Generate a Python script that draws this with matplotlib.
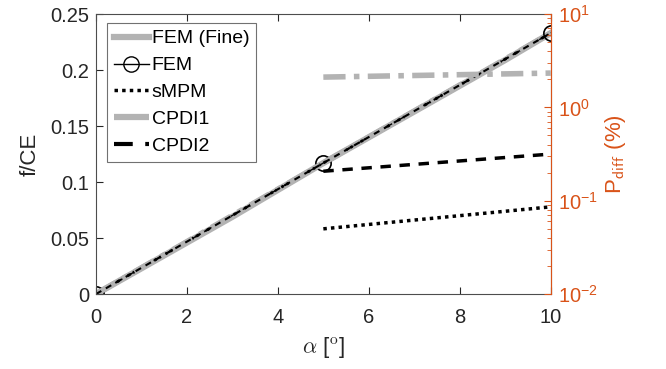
import matplotlib

matplotlib.use("Agg")
import matplotlib.pyplot as plt
from matplotlib.lines import Line2D

plt.rcParams["font.family"] = ["Liberation Sans", "DejaVu Sans"]
plt.rcParams["mathtext.fontset"] = "cm"

# ---------- data ----------
alpha_fine = [0, 1, 2, 3, 4, 5, 6, 7, 8, 9, 10]
f_fine = [0, 0.023, 0.046, 0.069, 0.093, 0.117, 0.140, 0.163, 0.186, 0.209, 0.233]
alpha_coarse = [0, 5, 10]
f_fem = [0, 0.117, 0.233]
f_smpm = [0, 0.117, 0.233]
f_cpdi1 = [0, 0.117, 0.233]
f_cpdi2 = [0, 0.117, 0.233]

alpha_diff = [5, 10]
p_smpm = [0.050, 0.086]
p_cpdi1 = [2.11, 2.33]
p_cpdi2 = [0.207, 0.316]

ORANGE = "#D95319"
GRAY = "#B3B3B3"
AX = "#262626"

fig = plt.figure(figsize=(6.66, 3.69), dpi=100)
ax = fig.add_axes([0.144, 0.203, 0.683, 0.759])

ax.plot(alpha_fine, f_fine, color=GRAY, lw=4.5, label="FEM (Fine)")
ax.plot(alpha_coarse, f_fem, color="black", lw=1.0, marker="o", ms=11,
        mfc="none", mec="black", mew=1.2, label="FEM")
ax.plot(alpha_coarse, f_smpm, color="black", lw=2.0, ls=(0, (1, 1.2)), label="sMPM")
ax.plot(alpha_coarse, f_cpdi1, color=GRAY, lw=4.0, ls=(0, (4, 1.5, 1, 1.5)), label="CPDI1")
ax.plot(alpha_coarse, f_cpdi2, color="black", lw=1.5, ls=(0, (3, 2.5)), label="CPDI2")

ax.set_xlim(0, 10)
ax.set_ylim(0, 0.25)
ax.set_xticks([0, 2, 4, 6, 8, 10])
ax.set_yticks([0, 0.05, 0.1, 0.15, 0.2, 0.25])
ax.set_yticklabels(["0", "0.05", "0.1", "0.15", "0.2", "0.25"])
ax.tick_params(direction="in", labelsize=14.5, colors=AX, top=True, length=5)
ax.tick_params(axis="x", pad=10)
ax.tick_params(axis="y", right=False, pad=5)
for s in ax.spines.values():
    s.set_color("#4D4D4D")
ax.set_xlabel(r"$\alpha$ [$^{\mathrm{o}}$]", fontsize=16, color=AX, labelpad=6)
ax.set_ylabel("f/CE", fontsize=16, color=AX, labelpad=7)

# legend handles drawn with longer lines like the reference
handles = [
    Line2D([], [], color=GRAY, lw=4.5),
    Line2D([], [], color="black", lw=1.0, marker="o", ms=11, mfc="none", mec="black"),
    Line2D([], [], color="black", lw=2.5, ls=(0, (1, 1.2))),
    Line2D([], [], color=GRAY, lw=4.5, ls=(0, (6, 1.5, 1, 1.5))),
    Line2D([], [], color="black", lw=3.0, ls=(0, (4.5, 3))),
]
labels = ["FEM (Fine)", "FEM", "sMPM", "CPDI1", "CPDI2"]
leg = ax.legend(handles, labels, loc="upper left", bbox_to_anchor=(0.024, 0.968),
                fontsize=14, frameon=True, fancybox=False, edgecolor="#4D4D4D",
                handlelength=1.8, handletextpad=0.15, borderpad=0.35, labelspacing=0.48,
                borderaxespad=0.0)
leg.get_frame().set_linewidth(0.8)

# ---------- right axis ----------
ax2 = ax.twinx()
ax2.plot(alpha_diff, p_smpm, color="black", lw=2.5, ls=(0, (1, 1.2)))
ax2.plot(alpha_diff, p_cpdi1, color=GRAY, lw=4.0, ls=(0, (4, 1.5, 1, 1.5)))
ax2.plot(alpha_diff, p_cpdi2, color="black", lw=2.5, ls=(0, (3, 2.5)))
ax2.set_yscale("log")
ax2.set_ylim(1e-2, 1e1)
ax2.tick_params(axis="y", which="both", direction="in", colors=ORANGE, labelsize=14.5, pad=5)
ax2.tick_params(axis="y", which="major", length=5)
ax2.tick_params(axis="y", which="minor", length=3)
ax2.spines["right"].set_color(ORANGE)
for k in ["left", "top", "bottom"]:
    ax2.spines[k].set_visible(False)
ax2.set_ylabel(r"P$_{\mathsf{diff}}$ (%)", fontsize=16, color=ORANGE, labelpad=4)

fig.savefig("out.png", dpi=100)
